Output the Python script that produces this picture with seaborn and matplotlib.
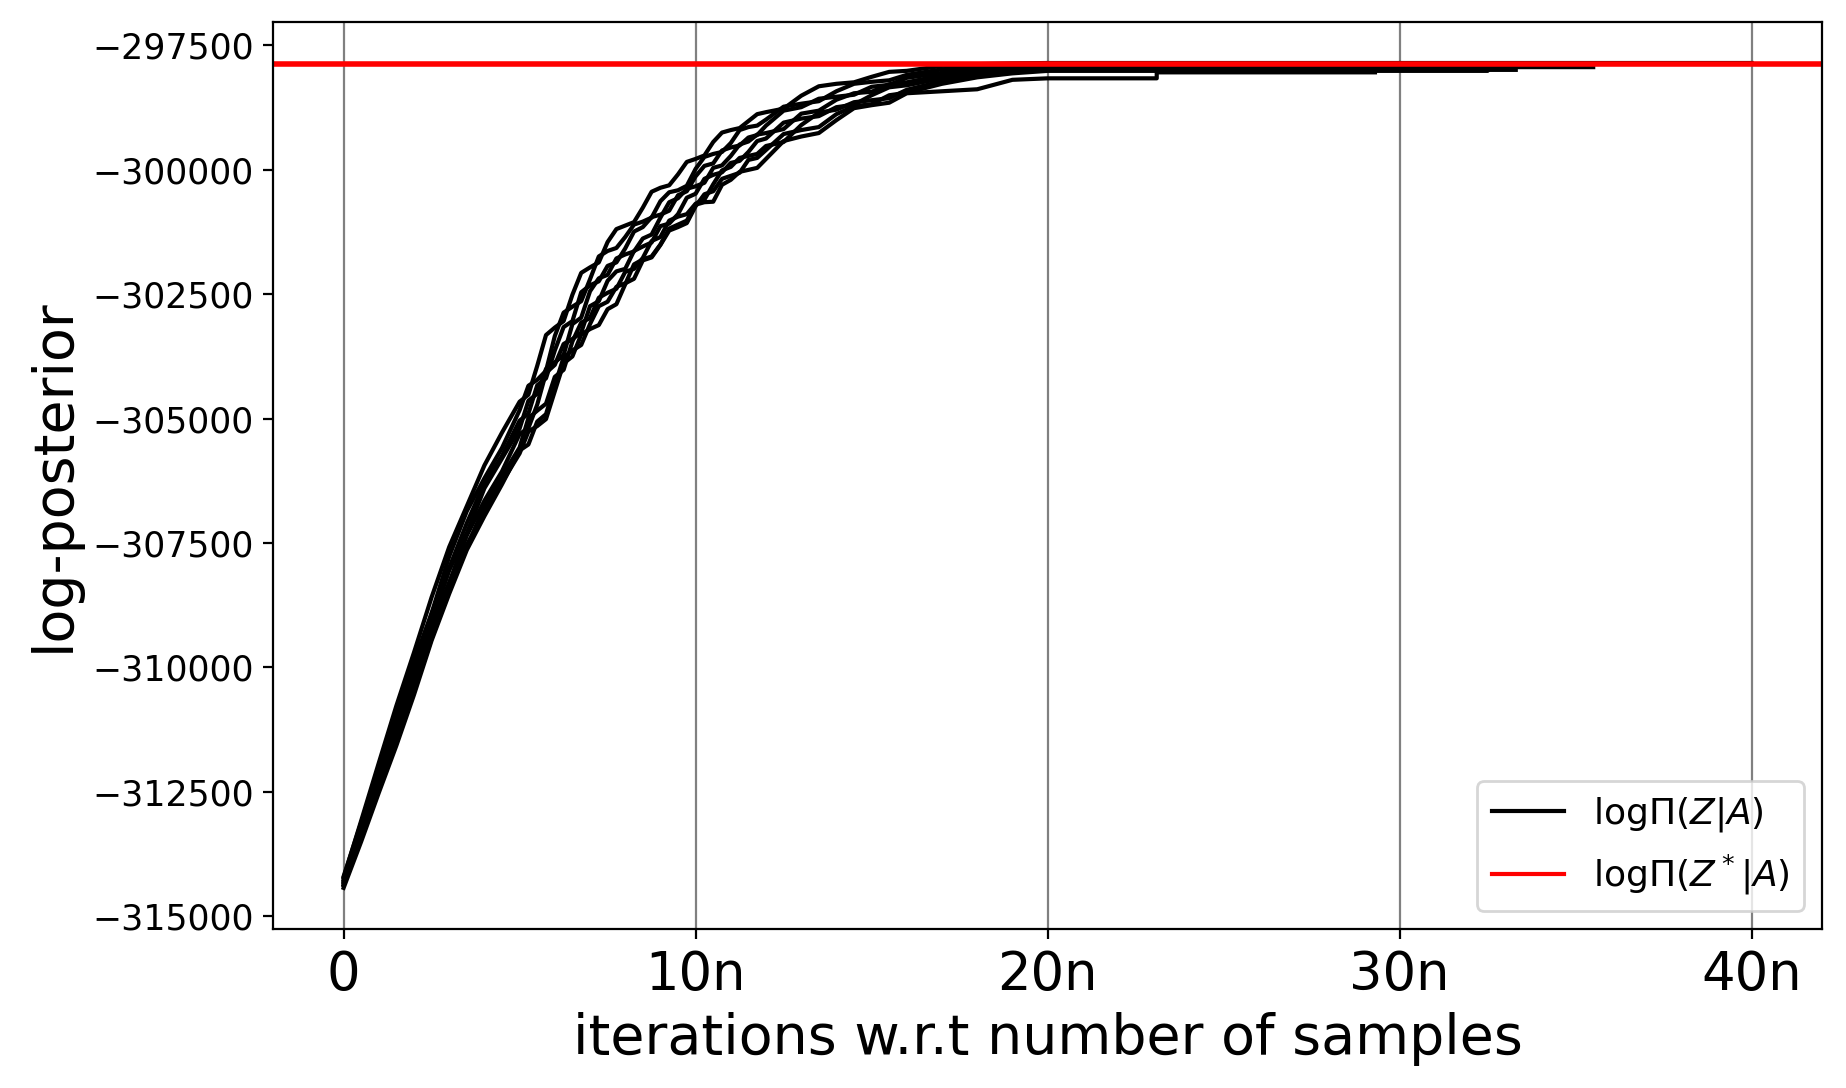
import matplotlib
matplotlib.use("Agg")
import matplotlib.pyplot as plt
from matplotlib.lines import Line2D
import seaborn as sns
import pandas as pd

# x positions in units of n (number of samples)
grid_x = [0, 0.5, 1, 1.5, 2, 2.5, 3, 3.5, 4, 4.5, 5,
          5.25, 5.5, 5.75, 6, 6.25, 6.5, 6.75, 7, 7.25, 7.5, 7.75, 8, 8.25, 8.5, 8.75, 9,
          9.25, 9.5, 9.75, 10, 10.25, 10.5, 10.75, 11, 11.25, 11.5, 11.75, 12,
          12.5, 13, 13.5, 14, 14.5, 15, 15.5, 16,
          17, 18, 19, 20]

run_1 = [-314230, -313080, -311920, -310770, -309700, -308590, -307580, -306760, -305940, -305280, -304660,
         -304520, -303940, -303320, -303170, -303040, -302510, -302070, -301960, -301860, -301450, -301190,
         -301120, -301050, -300760, -300440, -300360, -300310, -300090, -299840, -299780, -299710, -299440,
         -299250, -299200, -299160, -299020, -298880, -298840,
         -298770, -298510, -298320, -298270, -298240, -298130, -298030, -298010,
         -297910, -297875, -297860, -297852]
run_2 = [-314200, -313120, -312060, -310900, -309880, -308910, -307770, -306860, -306200, -305590, -304830,
         -304340, -304220, -304040, -303340, -302870, -302750, -302640, -302200, -301740, -301630, -301570,
         -301350, -301100, -301040, -300960, -300630, -300450, -300410, -300320, -299980, -299740, -299680,
         -299640, -299460, -299200, -299140, -299110, -298990,
         -298730, -298670, -298620, -298420, -298270, -298230, -298200, -298090,
         -297980, -297910, -297890, -297875]
run_3 = [-314270, -313180, -312160, -311150, -310010, -308920, -308000, -307100, -306300, -305750, -305040,
         -304900, -304330, -304190, -303630, -303160, -303040, -302460, -302320, -302240, -301930, -301860,
         -301580, -301240, -301150, -300950, -300900, -300820, -300510, -300430, -300130, -299920, -299870,
         -299610, -299550, -299510, -299350, -299300, -299110,
         -298810, -298740, -298570, -298530, -298490, -298330, -298290, -298150,
         -298050, -297960, -297930, -297905]
run_4 = [-314330, -313250, -312130, -311020, -310100, -309100, -308050, -307300, -306400, -305800, -305200,
         -304640, -304500, -304000, -303870, -303720, -303100, -302970, -302440, -302180, -302110, -301780,
         -301700, -301640, -301380, -301300, -300960, -300650, -300570, -300380, -300330, -300260, -299960,
         -299910, -299720, -299490, -299430, -299290, -299260,
         -299180, -298870, -298810, -298590, -298460, -298430, -298280, -298240,
         -298100, -298010, -297960, -297930]
run_5 = [-314300, -313300, -312310, -311230, -310280, -309190, -308290, -307350, -306650, -306060, -305310,
         -305190, -304720, -304080, -303920, -303500, -303400, -303270, -302740, -302640, -302230, -302040,
         -301990, -301630, -301540, -301460, -301130, -301080, -300890, -300560, -300480, -300180, -300100,
         -300050, -299860, -299820, -299640, -299420, -299370,
         -299050, -298970, -298920, -298740, -298690, -298500, -298340, -298300,
         -298160, -298050, -297990, -297955]
run_6 = [-314370, -313400, -312450, -311400, -310330, -309370, -308330, -307590, -306760, -306160, -305580,
         -304990, -304840, -304700, -304160, -304020, -303450, -303070, -302980, -302570, -302470, -302390,
         -302050, -301990, -301770, -301430, -301350, -301020, -300940, -300890, -300680, -300600, -300290,
         -300010, -299940, -299760, -299720, -299680, -299520,
         -299440, -299100, -298850, -298790, -298640, -298600, -298560, -298390,
         -298220, -298090, -298020, -297980]
run_7 = [-314433, -313500, -312520, -311570, -310550, -309460, -308520, -307640, -306960, -306320, -305640,
         -305520, -305060, -304910, -304330, -303770, -303630, -303520, -303100, -302740, -302650, -302350,
         -302280, -302190, -301820, -301760, -301510, -301220, -301150, -301070, -300730, -300490, -300430,
         -300180, -300120, -300060, -299800, -299760, -299600,
         -299280, -299200, -299140, -298880, -298720, -298680, -298500, -298450,
         -298270, -298140, -298060, -298010]
run_8 = [-314380, -313430, -312400, -311480, -310450, -309420, -308450, -307540, -306850, -306280, -305700,
         -305260, -305150, -305010, -304450, -303890, -303750, -303310, -303200, -303120, -302800, -302700,
         -302300, -301900, -301800, -301740, -301500, -301180, -301100, -301020, -300700, -300650, -300640,
         -300300, -300200, -300040, -300000, -299960, -299780,
         -299420, -299330, -299260, -299000, -298760, -298700, -298650, -298460,
         -298420, -298380, -298190, -298160]

# plateau tails after 20n (x, value)
tail_x_1 = [40];                tail_y_1 = [-297852]
tail_x_2 = [26];                tail_y_2 = [-297875]
tail_x_3 = [24];                tail_y_3 = [-297905]
tail_x_4 = [28];                tail_y_4 = [-297930]
tail_x_5 = [25];                tail_y_5 = [-297955]
tail_x_6 = [24, 24, 35.5];      tail_y_6 = [-297980, -297935, -297935]
tail_x_7 = [32.5, 32.5, 33.3];  tail_y_7 = [-298010, -297990, -297990]
tail_x_8 = [23.1, 23.1, 29.3];  tail_y_8 = [-298160, -298040, -298040]

optimum = -297874

x_ticks = [0, 10, 20, 30, 40]
x_tick_labels = ["0", "10n", "20n", "30n", "40n"]

runs = [(run_1, tail_x_1, tail_y_1), (run_2, tail_x_2, tail_y_2), (run_3, tail_x_3, tail_y_3),
        (run_4, tail_x_4, tail_y_4), (run_5, tail_x_5, tail_y_5), (run_6, tail_x_6, tail_y_6),
        (run_7, tail_x_7, tail_y_7), (run_8, tail_x_8, tail_y_8)]

rows = []
for i, (vals, tx, ty) in enumerate(runs):
    assert len(vals) == len(grid_x)
    for a, b in zip(list(grid_x) + list(tx), list(vals) + list(ty)):
        rows.append({"run": i, "x": a, "y": b})
df = pd.DataFrame(rows)

plt.rcParams["font.family"] = ["DejaVu Sans"]
fig = plt.figure(figsize=(9.23, 5.44), dpi=200)
ax = fig.add_axes([0.148, 0.146, 0.839, 0.834])

sns.lineplot(data=df, x="x", y="y", units="run", estimator=None, sort=False,
             color="black", linewidth=1.5, ax=ax, legend=False)
ax.axhline(optimum, color="red", linewidth=2)

ax.grid(axis="x", color="gray", linewidth=0.8)
ax.set_xticks(x_ticks)
ax.set_xticklabels(x_tick_labels, fontsize=19)
ax.tick_params(axis="y", labelsize=12.5)
ax.set_xlabel("iterations w.r.t number of samples", fontsize=20)
ax.set_ylabel("log-posterior", fontsize=20)
ax.margins(x=0.05, y=0.05)

handles = [Line2D([], [], color="black", linewidth=1.5),
           Line2D([], [], color="red", linewidth=1.5)]
ax.legend(handles, [r"$\mathrm{log}\Pi(Z|A)$", r"$\mathrm{log}\Pi(Z^*|A)$"],
          loc="lower right", fontsize=13)

fig.savefig("out.png", dpi=200)
